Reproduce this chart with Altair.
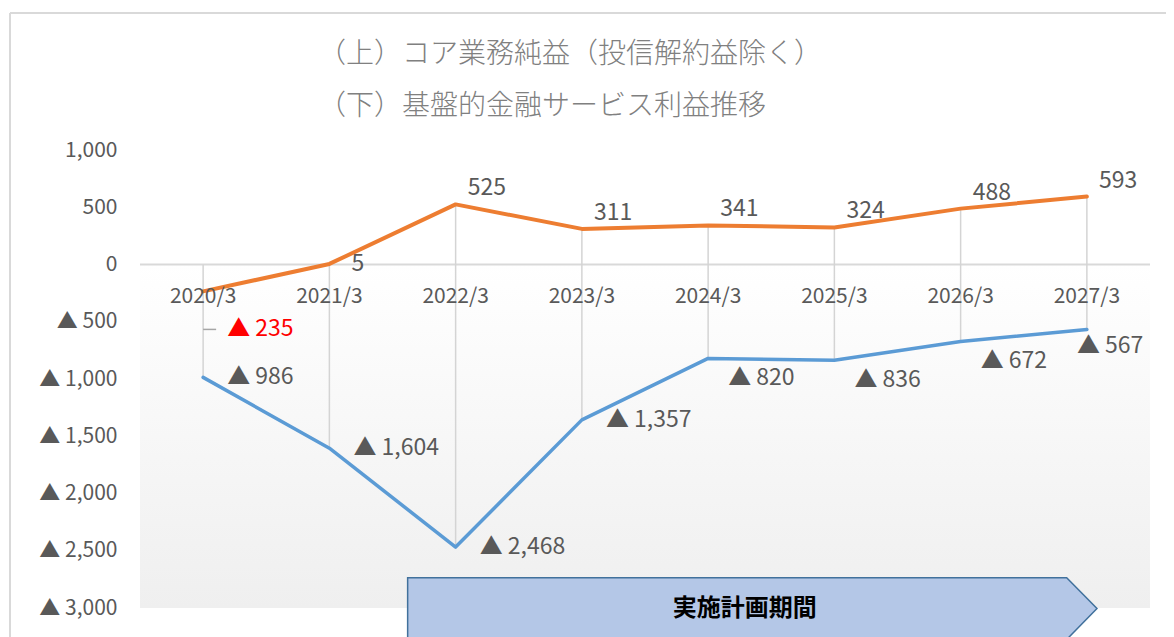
import altair as alt
import pandas as pd

# ---------------- data ----------------
categories = ["2020/3", "2021/3", "2022/3", "2023/3", "2024/3", "2025/3", "2026/3", "2027/3"]
core_profit = [-235, 5, 525, 311, 341, 324, 488, 593]            # (上) コア業務純益（投信解約益除く）
base_profit = [-986, -1604, -2468, -1357, -820, -836, -672, -567]  # (下) 基盤的金融サービス利益
y_ticks = [1000, 500, 0, -500, -1000, -1500, -2000, -2500, -3000]
title_lines = ["（上）コア業務純益（投信解約益除く）", "（下）基盤的金融サービス利益推移"]
plan_label = "実施計画期間"
plan_x = [1.62, 6.84, 7.08]      # arrow start, shoulder, tip (category index units)
plan_y = [-2735, -3275]          # arrow top / bottom (value units)

# ---------------- layout ----------------
W, H = 1010, 458
X_DOM = [-0.5, 7.5]
Y_DOM = [-3000, 1000]
UPP = (Y_DOM[1] - Y_DOM[0]) / H   # value units per pixel
GRAY_TXT = "#595959"
CJK = "Noto Sans CJK JP"


def fmt(v):
    return f"▲ {abs(v):,}" if v < 0 else f"{v:,}"


df = pd.DataFrame({
    "i": list(range(len(categories))),
    "cat": categories,
    "core": core_profit,
    "base": base_profit,
})
df["core_lbl"] = [fmt(v) for v in core_profit]
df["base_lbl"] = [fmt(v) for v in base_profit]

Y_AXIS = alt.Axis(
    values=y_ticks, domain=False, ticks=False, grid=False, title=None,
    labelExpr="datum.value < 0 ? '▲ ' + format(-datum.value, ',') : format(datum.value, ',')",
    labelFont=CJK, labelFontSize=21, labelColor=GRAY_TXT, labelPadding=23)


def X(field, **kw):
    return alt.X(field, type="quantitative", scale=alt.Scale(domain=X_DOM, nice=False, zero=False), axis=None, **kw)


def Y(field, **kw):
    return alt.Y(field, type="quantitative", scale=alt.Scale(domain=Y_DOM, nice=False, zero=False), axis=Y_AXIS, **kw)


base = alt.Chart(df)

# gradient background below zero
bg_df = pd.DataFrame({"x": [X_DOM[0]], "x2": [X_DOM[1]], "y": [0], "y2": [Y_DOM[0]]})
bg = alt.Chart(bg_df).mark_rect(
    color={"gradient": "linear", "x1": 0, "x2": 0, "y1": 0, "y2": 1,
           "stops": [{"offset": 0, "color": "#ffffff"}, {"offset": 1, "color": "#efefef"}]}
).encode(x=X("x"), x2="x2", y=Y("y"), y2="y2")

zero = alt.Chart(pd.DataFrame({"y": [0]})).mark_rule(color="#d9d9d9", strokeWidth=2).encode(
    y=Y("y"), x=alt.value(0), x2=alt.value(W))

hilo = base.transform_calculate(top="max(datum.core, 0)").mark_rule(
    color="#d4d4d4", strokeWidth=1.5).encode(x=X("i"), y=Y("top"), y2="base")

core_line = base.mark_line(color="#ED7D31", strokeWidth=4, strokeCap="round", strokeJoin="round").encode(
    x=X("i"), y=Y("core"))
base_line = base.mark_line(color="#5B9BD5", strokeWidth=3.5, strokeCap="round", strokeJoin="round").encode(
    x=X("i"), y=Y("base"))

txt = dict(font=CJK, fontSize=23, color=GRAY_TXT, align="left", baseline="middle")

core_lbl_above = base.transform_filter("datum.i >= 2").mark_text(dx=12, dy=-16, **txt).encode(
    x=X("i"), y=Y("core"), text="core_lbl")
core_lbl_right = base.transform_filter("datum.i == 1").mark_text(dx=22, dy=0, **txt).encode(
    x=X("i"), y=Y("core"), text="core_lbl")

red_df = df[df.i == 0].copy()
red_df["ly"] = red_df["core"] - 38 * UPP
red_df["lx2"] = red_df["i"] + 13 / (W / (X_DOM[1] - X_DOM[0]))
red_lbl = alt.Chart(red_df).mark_text(dx=24, **{**txt, "color": "#FF0000"}).encode(
    x=X("i"), y=Y("ly"), text="core_lbl")
leader = alt.Chart(red_df).mark_rule(color="#a6a6a6", strokeWidth=1.5).encode(
    x=X("i"), x2="lx2", y=Y("ly"))

base_lbl_right = base.transform_filter("datum.i <= 3").mark_text(dx=24, dy=0, **txt).encode(
    x=X("i"), y=Y("base"), text="base_lbl")
base_lbl_below = base.transform_filter("datum.i >= 4 && datum.i <= 6").mark_text(dx=20, dy=20, **txt).encode(
    x=X("i"), y=Y("base"), text="base_lbl")
base_lbl_last = base.transform_filter("datum.i == 7").mark_text(dx=-10, dy=17, **txt).encode(
    x=X("i"), y=Y("base"), text="base_lbl")

xlabels = base.transform_calculate(zero="0").mark_text(
    font=CJK, fontSize=21, color=GRAY_TXT, align="center", baseline="middle", dy=32).encode(
    x=X("i"), y=Y("zero:Q"), text="cat")

# implementation-period arrow
arrow_df = pd.DataFrame({
    "x": plan_x,
    "y": [plan_y[0], plan_y[0], (plan_y[0] + plan_y[1]) / 2],
    "y2": [plan_y[1], plan_y[1], (plan_y[0] + plan_y[1]) / 2],
})
arrow = alt.Chart(arrow_df).mark_area(
    color="#B4C7E7", stroke="#41719C", strokeWidth=1.5, opacity=1, interpolate="linear").encode(
    x=X("x"), y=Y("y"), y2="y2")
arrow_txt_df = pd.DataFrame({"x": [4.29], "y": [(plan_y[0] + plan_y[1]) / 2], "t": [plan_label]})
arrow_txt = alt.Chart(arrow_txt_df).mark_text(
    font=CJK, fontSize=24, fontWeight="bold", color="#000000", align="center", baseline="middle").encode(
    x=X("x"), y=Y("y"), text="t")

# title (two gray lines)
title_df = pd.DataFrame({"t": title_lines, "row": [0, 1]})
title_style = dict(font=CJK, fontSize=28, fontWeight=300, color="#808080", align="left", baseline="middle")
title1 = alt.Chart(title_df).transform_filter("datum.row == 0").mark_text(**title_style).encode(
    x=alt.value(178), y=alt.value(-95), text="t")
title2 = alt.Chart(title_df).transform_filter("datum.row == 1").mark_text(**title_style).encode(
    x=alt.value(178), y=alt.value(-43), text="t")

# outer frame
frame_top = alt.Chart(pd.DataFrame({"a": [0]})).mark_rule(color="#d9d9d9", strokeWidth=2).encode(
    x=alt.value(-130), x2=alt.value(W + 40), y=alt.value(-137))
frame_left = alt.Chart(pd.DataFrame({"a": [0]})).mark_rule(color="#d9d9d9", strokeWidth=2).encode(
    x=alt.value(-130), y=alt.value(-137), y2=alt.value(H + 60))

chart = alt.layer(
    bg, zero, hilo, core_line, base_line,
    core_lbl_above, core_lbl_right, leader, red_lbl,
    base_lbl_right, base_lbl_below, base_lbl_last, xlabels,
    arrow, arrow_txt, title1, title2, frame_top, frame_left,
).properties(
    width=W, height=H,
    padding={"left": 132, "top": 142, "right": 16, "bottom": 29},
    autosize=alt.AutoSizeParams(type="none"),
).configure_view(stroke=None)

chart.save("out.html", embed_options={"renderer": "svg", "actions": False})
